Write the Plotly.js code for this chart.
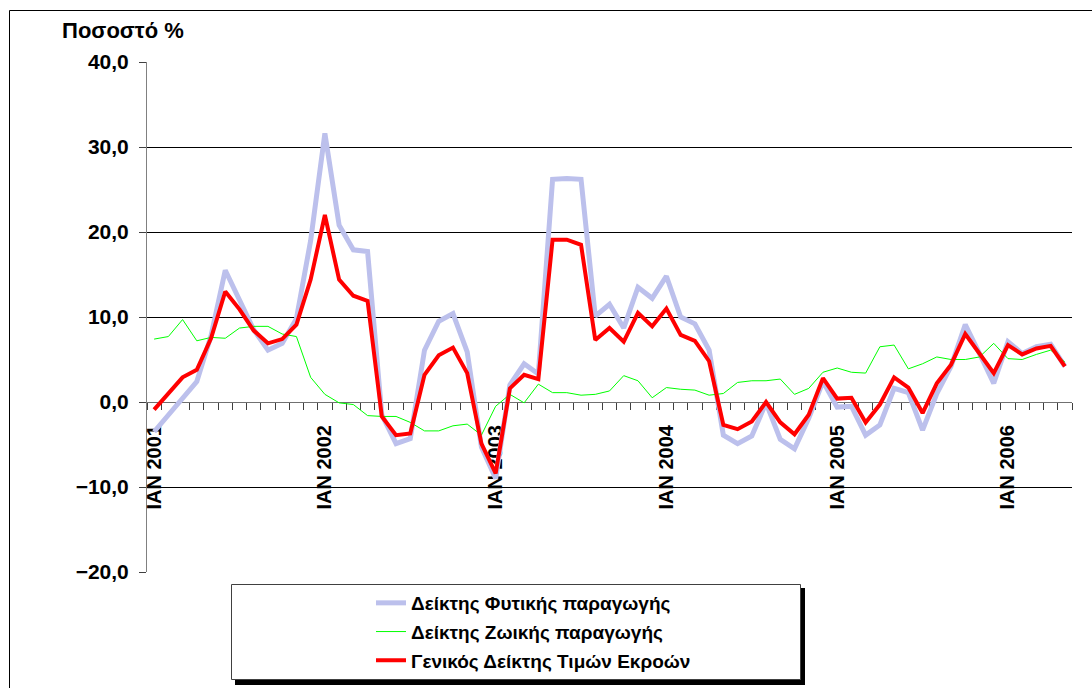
<!DOCTYPE html>
<html>
<head>
<meta charset="utf-8">
<script src="https://cdn.plot.ly/plotly-3.0.1.min.js"></script>
<style>
  html, body { margin: 0; padding: 0; background: #fff; overflow: hidden; }
  #chart { width: 1092px; height: 688px; }
</style>
</head>
<body>
<div id="chart"></div>
<script>
// Monthly series, Jan 2001 – May 2006 (% change)
const seriesNames = [
  "Δείκτης Φυτικής παραγωγής",
  "Δείκτης Ζωικής παραγωγής",
  "Γενικός Δείκτης Τιμών Εκροών"
];

const plantIndex = [
  -3.5, -1.5, 0.4, 2.4, 7.8, 15.5, 12.0, 8.5, 6.1, 6.9, 9.8, 19.0,
  31.6, 20.8, 17.9, 17.7, -1.5, -4.9, -4.3, 6.1, 9.5, 10.4, 5.9, -5.3,
  -9.0, 2.0, 4.5, 3.3, 26.2, 26.3, 26.2, 10.1, 11.5, 8.7, 13.5, 12.2,
  14.8, 10.0, 9.2, 6.1, -3.9, -4.9, -4.0, -0.1, -4.4, -5.5, -1.9, 2.4,
  -0.6, -0.5, -3.9, -2.7, 1.6, 1.1, -3.3, 1.0, 4.2, 9.1, 5.7, 2.2,
  7.1, 5.7, 6.5, 6.8, 4.2
];

const animalIndex = [
  7.4, 7.7, 9.7, 7.2, 7.6, 7.5, 8.7, 8.9, 8.9, 8.0, 7.7, 2.9,
  0.9, -0.1, -0.3, -1.6, -1.7, -1.7, -2.4, -3.4, -3.4, -2.8, -2.6, -3.9,
  -0.5, 0.9, -0.1, 2.1, 1.1, 1.1, 0.8, 0.9, 1.3, 3.1, 2.5, 0.5,
  1.7, 1.5, 1.4, 0.8, 1.0, 2.3, 2.5, 2.5, 2.7, 0.9, 1.6, 3.5,
  4.0, 3.5, 3.4, 6.5, 6.7, 3.9, 4.5, 5.3, 5.0, 5.0, 5.3, 6.9,
  5.1, 5.0, 5.6, 6.1, 4.7
];

const generalIndex = [
  -0.9, 1.0, 2.9, 3.8, 7.5, 13.0, 10.9, 8.4, 6.9, 7.4, 9.1, 14.4,
  22.0, 14.4, 12.5, 11.9, -1.7, -3.9, -3.7, 3.2, 5.5, 6.4, 3.4, -4.9,
  -8.4, 1.6, 3.2, 2.7, 19.1, 19.1, 18.5, 7.3, 8.7, 7.1, 10.5, 8.9,
  11.0, 7.9, 7.2, 4.8, -2.7, -3.2, -2.3, 0.0, -2.4, -3.8, -1.5, 2.8,
  0.4, 0.5, -2.4, -0.3, 2.9, 1.7, -1.3, 2.2, 4.4, 8.0, 5.7, 3.4,
  6.7, 5.6, 6.3, 6.6, 4.2
];

// Category positions of the year labels (January of each year)
const yearTickPositions = [0, 12, 24, 36, 48, 60];
const yearTickLabels = ["ΙΑΝ 2001", "ΙΑΝ 2002", "ΙΑΝ 2003", "ΙΑΝ 2004", "ΙΑΝ 2005", "ΙΑΝ 2006"];

const yTitle = "Ποσοστό %";

// ---------------------------------------------------------------
const monthIndex = plantIndex.map((_, i) => i);

const W = 1092, H = 688;
const M = { l: 147, r: 20, t: 62, b: 116, autoexpand: false };
const PW = W - M.l - M.r, PH = H - M.t - M.b;
const px = v => (v - M.l) / PW;          // page px -> paper x
const py = v => (H - M.b - v) / PH;      // page px -> paper y

const FONT = "Liberation Sans, Arial, Helvetica, sans-serif";
const bold = s => "<b>" + s + "</b>";

const traces = [
  {
    x: monthIndex, y: plantIndex, name: bold(seriesNames[0]), type: "scatter", mode: "lines",
    line: { color: "rgb(188,192,236)", width: 5 }, legendgroup: "a"
  },
  {
    x: monthIndex, y: animalIndex, name: bold(seriesNames[1]), type: "scatter", mode: "lines",
    line: { color: "#00FF00", width: 1 }, legendgroup: "b"
  },
  {
    x: monthIndex, y: generalIndex, name: bold(seriesNames[2]), type: "scatter", mode: "lines",
    line: { color: "#FF0000", width: 4 }, legendgroup: "c"
  }
];

const layout = {
  width: W, height: H,
  margin: M,
  paper_bgcolor: "#fff",
  plot_bgcolor: "rgba(0,0,0,0)",
  separators: ",.",
  font: { family: FONT, color: "#000", size: 19 },
  showlegend: true,
  legend: {
    x: px(371), xanchor: "left",
    y: py(584), yanchor: "top",
    bgcolor: "rgba(0,0,0,0)",
    borderwidth: 0,
    traceorder: "grouped",
    tracegroupgap: 1,
    font: { family: FONT, size: 19, weight: 700, color: "#000" }
  },
  xaxis: {
    range: [-0.5, plantIndex.length - 0.5],
    anchor: "free",
    position: 20 / 60,
    showgrid: false,
    zeroline: false,
    showline: true,
    linecolor: "#707070",
    linewidth: 1,
    tickmode: "array",
    tickvals: yearTickPositions,
    ticktext: yearTickLabels,
    ticks: "outside",
    ticklen: 14,
    tickcolor: "rgba(0,0,0,0)",
    tickangle: -90,
    tickfont: { family: FONT, size: 20, weight: 700, color: "#000" },
    minor: {
      tickmode: "linear",
      tick0: -0.5,
      dtick: 1,
      ticks: "outside",
      ticklen: 7,
      tickcolor: "#404040",
      tickwidth: 1,
      showgrid: false
    },
    layer: "below traces",
    fixedrange: true
  },
  yaxis: {
    range: [-20, 40],
    tick0: 0,
    dtick: 10,
    tickformat: ".1f",
    showgrid: true,
    gridcolor: "#000",
    gridwidth: 1,
    zeroline: false,
    showline: true,
    linecolor: "#808080",
    linewidth: 1,
    ticks: "outside",
    ticklen: 7,
    tickcolor: "#404040",
    ticklabelstandoff: 6,
    tickfont: { family: FONT, size: 21, weight: 700, color: "#000" },
    layer: "below traces",
    fixedrange: true
  },
  annotations: [
    {
      text: bold(yTitle), xref: "paper", yref: "paper",
      x: px(60), xanchor: "left", y: py(30), yanchor: "middle",
      showarrow: false,
      font: { family: FONT, size: 22, weight: 700, color: "#000" }
    }
  ],
  shapes: [
    // outer chart frame
    { type: "rect", xref: "paper", yref: "paper", x0: px(9.5), x1: px(1200), y0: py(10.5), y1: py(900),
      line: { color: "#000", width: 1 }, fillcolor: "rgba(0,0,0,0)", layer: "above" },
    // legend shadow
    { type: "rect", xref: "paper", yref: "paper", x0: px(235), x1: px(805), y0: py(588), y1: py(685),
      line: { width: 0 }, fillcolor: "#000", layer: "above" },
    // legend box
    { type: "rect", xref: "paper", yref: "paper", x0: px(231.5), x1: px(800.5), y0: py(584.5), y1: py(679.5),
      line: { color: "#404040", width: 1 }, fillcolor: "#fff", layer: "above" }
  ]
};

Plotly.newPlot("chart", traces, layout, { staticPlot: true, displayModeBar: false });
</script>
</body>
</html>
